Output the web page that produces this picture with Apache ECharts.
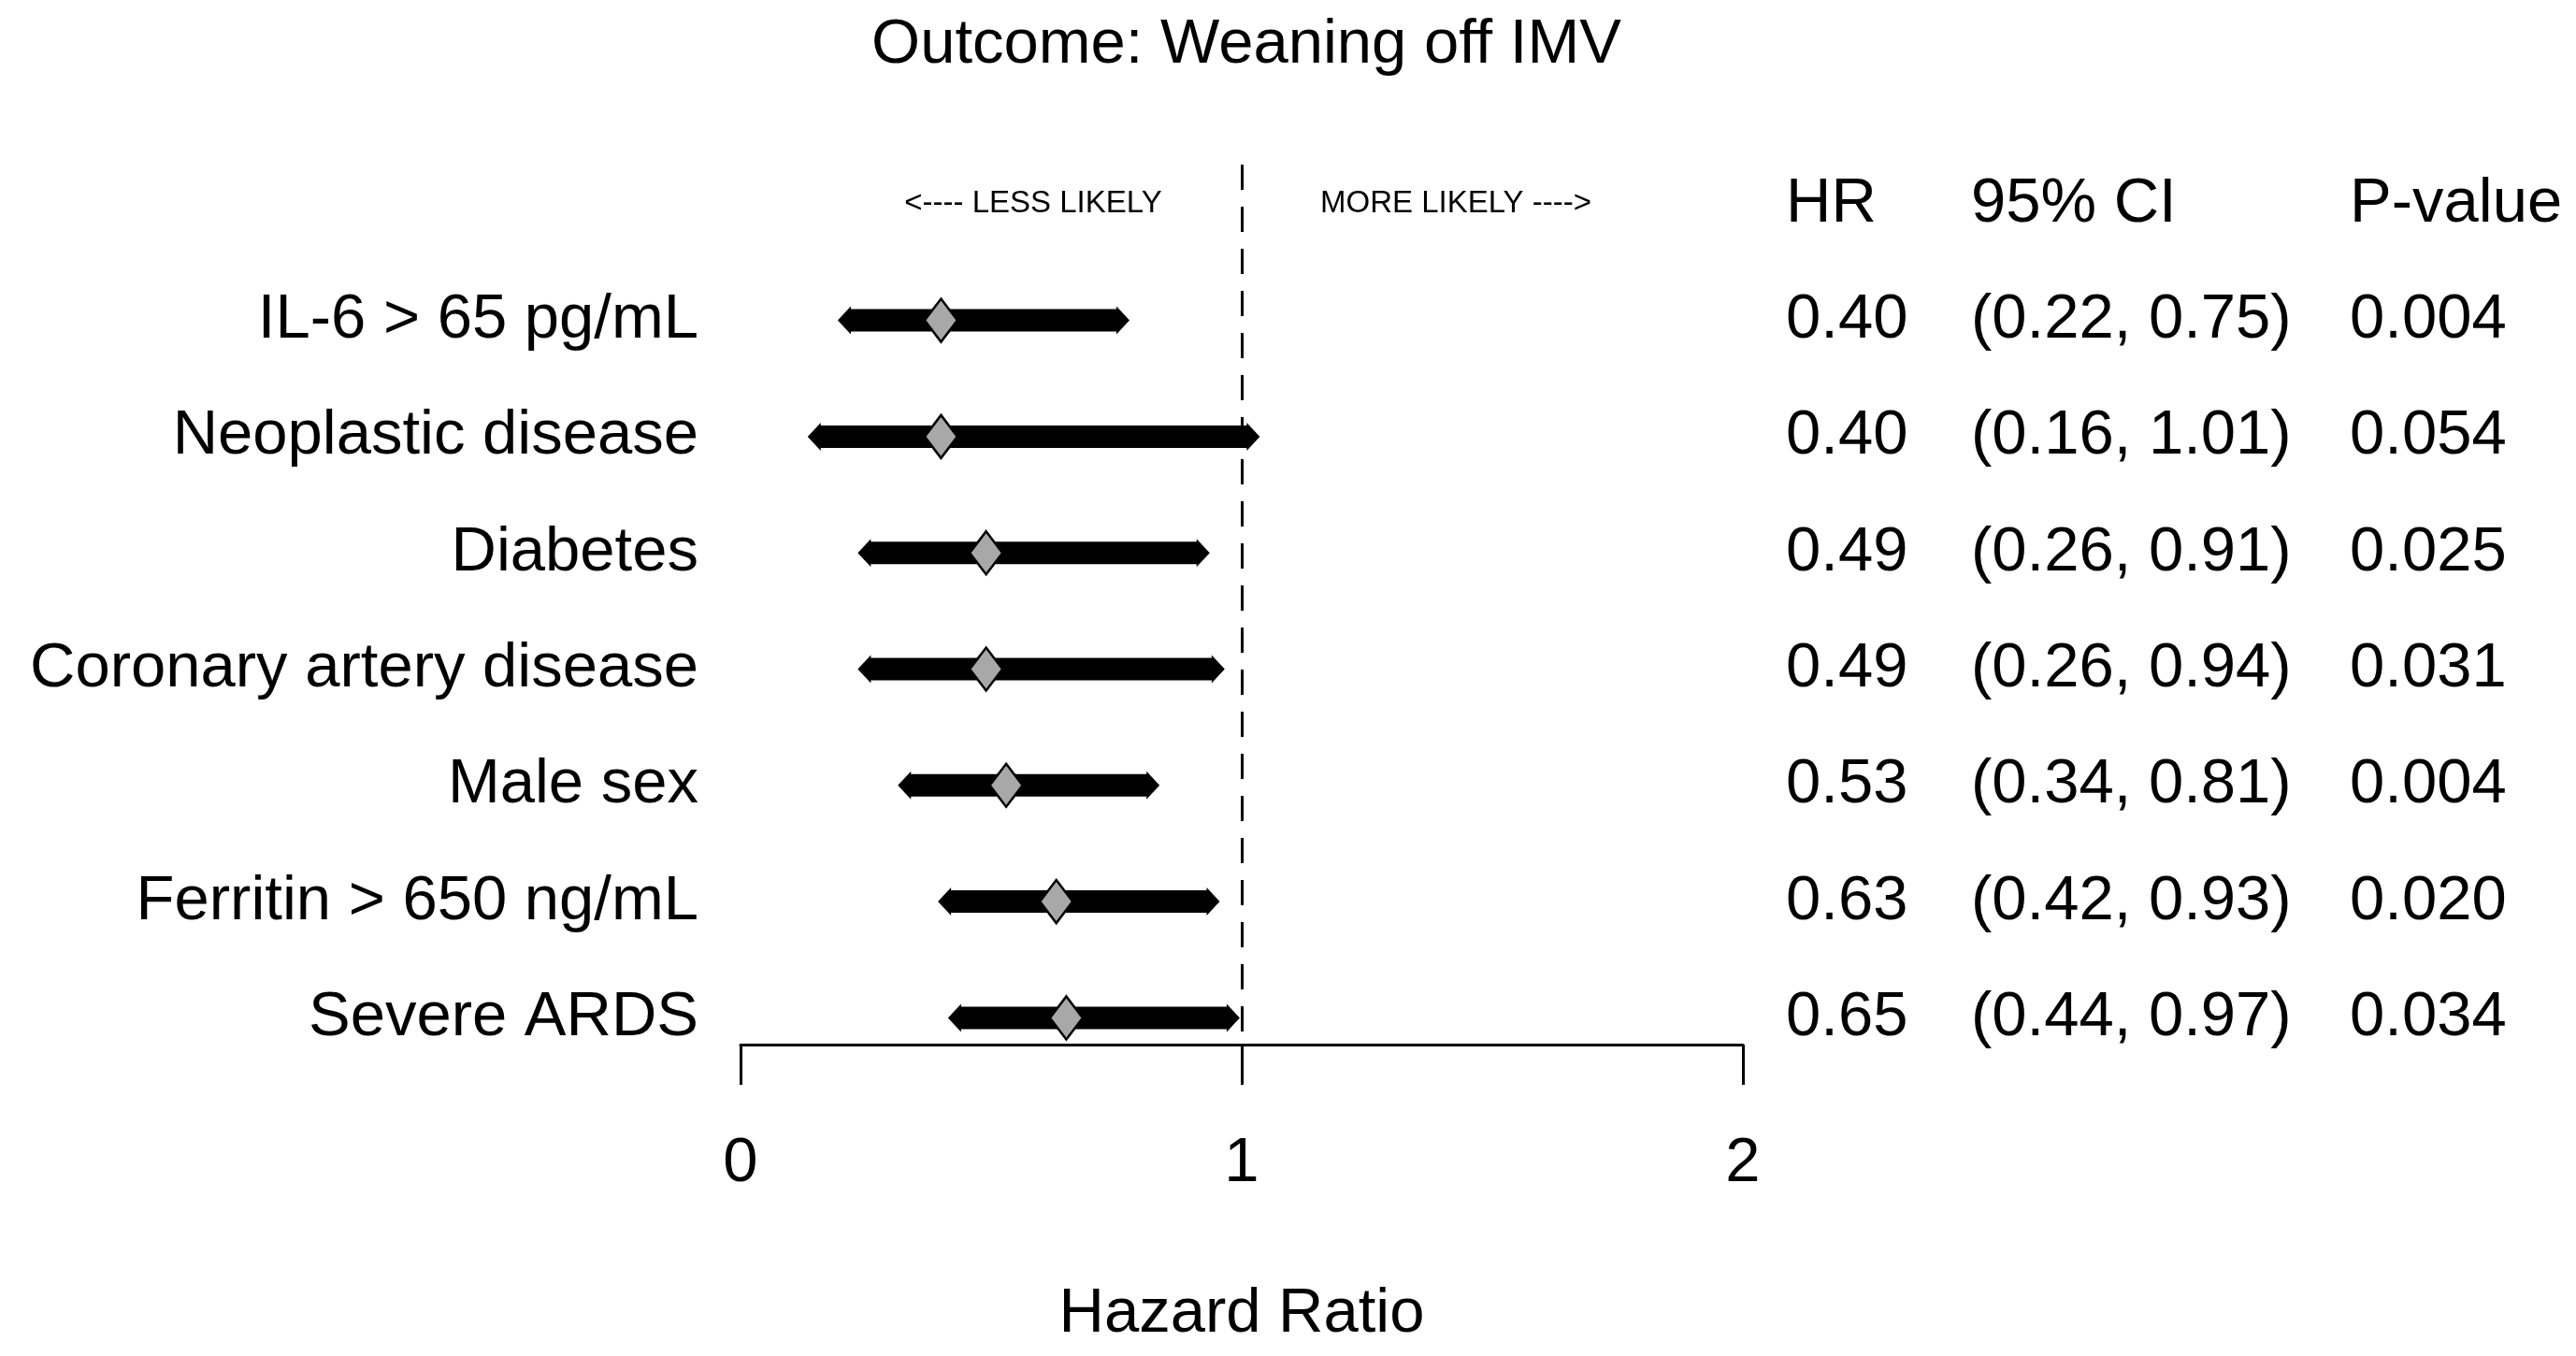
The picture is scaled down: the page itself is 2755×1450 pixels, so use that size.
<!DOCTYPE html>
<html><head><meta charset="utf-8">
<script src="https://cdn.jsdelivr.net/npm/echarts@6/dist/echarts.min.js"></script>
<style>html,body{margin:0;padding:0;background:#fff}#c{width:2755px;height:1450px}</style>
</head><body><div id="c"></div>
<script>
const categories = ['IL-6 > 65 pg/mL','Neoplastic disease','Diabetes','Coronary artery disease','Male sex','Ferritin > 650 ng/mL','Severe ARDS'];
const hr = [0.40,0.40,0.49,0.49,0.53,0.63,0.65];
const lower = [0.22,0.16,0.26,0.26,0.34,0.42,0.44];
const upper = [0.75,1.01,0.91,0.94,0.81,0.93,0.97];
const pValues = ['0.004','0.054','0.025','0.031','0.004','0.020','0.034'];
const xTicks = [0,1,2];
const headers = ['HR','95% CI','P-value'];
const directionLabels = ['<---- LESS LIKELY','MORE LIKELY ---->'];
const referenceValue = 1;

const FONT = '"Liberation Sans", Arial, Helvetica, sans-serif';
const FS = 67;
const chart = echarts.init(document.getElementById('c'), null, {renderer:'canvas'});

const forestData = categories.map((c,i)=>[i, lower[i], hr[i], upper[i]]);
const tableData = categories.map((c,i)=>[i]);

function renderForest(params, api){
  const i = api.value(0);
  const lo = api.coord([api.value(1), i]);
  const mid = api.coord([api.value(2), i]);
  const hi = api.coord([api.value(3), i]);
  const y = mid[1];
  const bh = 12, ah = 15, al = 14;
  const pts = [[lo[0]-al,y],[lo[0],y-ah],[lo[0],y-bh],[hi[0],y-bh],[hi[0],y-ah],[hi[0]+al,y],
               [hi[0],y+ah],[hi[0],y+bh],[lo[0],y+bh],[lo[0],y+ah]];
  const dw = 17.5, dh = 23;
  return {type:'group', children:[
    {type:'polygon', shape:{points:pts}, style:{fill:'#000'}},
    {type:'polygon', shape:{points:[[mid[0],y-dh],[mid[0]+dw,y],[mid[0],y+dh],[mid[0]-dw,y]]},
     style:{fill:'#a8a8a8', stroke:'#000', lineWidth:2.5}}
  ]};
}

function txt(x, y, s, align, size){
  return {type:'text', x:x, y:y, style:{text:s, fill:'#000', font: size+'px '+FONT, textAlign:align, textVerticalAlign:'middle'}};
}

function renderTable(params, api){
  const i = api.value(0);
  const y = api.coord([0, i])[1];
  const children = [
    txt(747, y, categories[i], 'right', FS),
    txt(1910, y, hr[i].toFixed(2), 'left', FS),
    txt(2108, y, '(' + lower[i].toFixed(2) + ', ' + upper[i].toFixed(2) + ')', 'left', FS),
    txt(2513, y, pValues[i], 'left', FS)
  ];
  if (i === 0) {
    const yh = api.coord([0, -1])[1];
    children.push(txt(1910, yh, headers[0], 'left', FS));
    children.push(txt(2108, yh, headers[1], 'left', FS));
    children.push(txt(2513, yh, headers[2], 'left', FS));
    children.push(txt(1105, yh, directionLabels[0], 'center', 33));
    children.push(txt(1557, yh, directionLabels[1], 'center', 33));
  }
  return {type:'group', children:children};
}

chart.setOption({
  backgroundColor:'#fff',
  animation:false,
  title:{text:'Outcome: Weaning off IMV', left:1328, top:10, textAlign:'center',
    textStyle:{fontSize:FS, fontWeight:'normal', color:'#000', fontFamily:FONT, lineHeight:67}},
  grid:{left:792, right:891, top:176, bottom:333},
  xAxis:{type:'value', min:0, max:2, interval:1,
    axisLine:{show:true, onZero:false, lineStyle:{color:'#000', width:3}},
    axisTick:{show:true, length:43, inside:false, lineStyle:{color:'#000', width:3}, customValues:xTicks},
    axisLabel:{fontSize:FS, margin:94, color:'#000', fontFamily:FONT, customValues:xTicks},
    splitLine:{show:false},
    name:'Hazard Ratio', nameLocation:'middle', nameGap:255,
    nameTextStyle:{fontSize:FS, color:'#000', fontFamily:FONT}},
  yAxis:{type:'value', min:-1.34, max:6.23, inverse:true, show:false},
  series:[
    {type:'custom', name:'forest', renderItem:renderForest, data:forestData, clip:false, z:3,
     encode:{x:[1,2,3], y:0},
     markLine:{symbol:'none', silent:true, label:{show:false},
       lineStyle:{type:[27,18], color:'#000', width:3},
       data:[{xAxis:referenceValue}]}},
    {type:'custom', name:'table', renderItem:renderTable, data:tableData, clip:false, z:4, encode:{y:0}}
  ]
});
</script></body></html>
